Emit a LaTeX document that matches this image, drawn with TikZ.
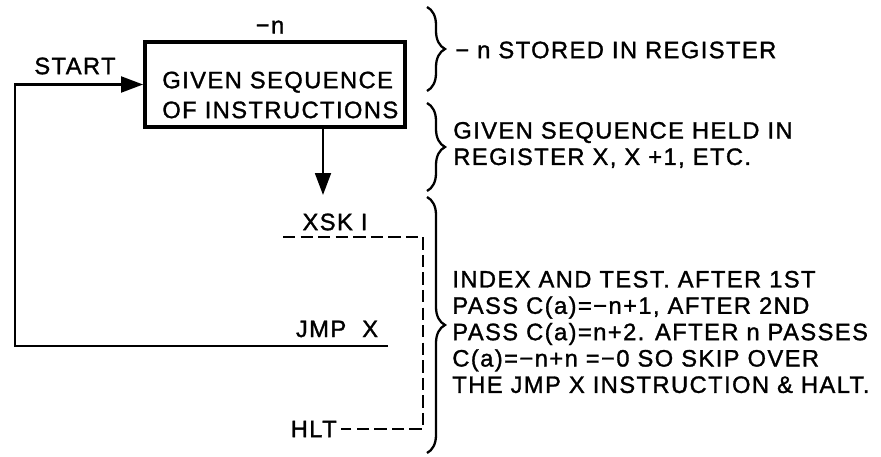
\documentclass[tikz,border=0pt]{standalone}
\usepackage{fontspec}
\setmainfont{Liberation Sans}[LetterSpace=6,FakeBold=1.3]
\usetikzlibrary{arrows.meta,positioning,decorations.pathreplacing}

\begin{document}
\begin{tikzpicture}[x=0.02cm,y=-0.02cm,
    txt/.style={font=\fontsize{13.5}{15}\selectfont,inner sep=0pt,align=left},
    seqbox/.style={draw,line width=2.2pt,minimum width=5.2cm,minimum height=1.7cm,inner sep=0pt},
    flow/.style={line width=1.4pt,-{Triangle[length=12.5pt,width=9pt]}},
    skip/.style={line width=1.3pt,dash pattern=on 7pt off 3pt},
    curly/.style={decorate,decoration={brace,amplitude=0.36cm},line width=1.3pt}
]
    \useasboundingbox (0,0) rectangle (881,456);
    % left half: the program
    \node[seqbox] (seq) at (275,84.5) {};
    \node[txt,anchor=west,font=\fontsize{13.5}{17}\selectfont] (seqtxt) at (162,95)
        {GIVEN SEQUENCE\\OF INSTRUCTIONS};
    \node[txt] (minusn) at (270,27) {−n};
    \node[txt] (start) at (75,66) {START};
    \node[txt] (xsk) at (335,222) {XSK I};
    \node[txt] (jmp) at (337,329) {JMP\ \ X};
    \node[txt,anchor=east] (hlt) at (337,429) {HLT};
    \coordinate (xsktip) at (323,195);
    \coordinate (jmpend) at (388,346);
    \coordinate (loopcorner) at (15,346);
    \coordinate (skipstart) at (283,237);
    \coordinate (skipright) at (418,237);
    \draw[flow] (jmpend) -- (loopcorner) |- (seq.west);
    \draw[flow] (seq.south -| xsktip) -- (xsktip);
    \draw[skip] (skipstart) -| ([xshift=3pt]skipright |- hlt.east) -- ([xshift=2pt]hlt.east);
    % right half: the notes
    \coordinate (b1top) at (427,7);
    \coordinate (b1bot) at (427,91);
    \coordinate (b2top) at (427,103);
    \coordinate (b2bot) at (427,191);
    \coordinate (b3top) at (427,197);
    \coordinate (b3bot) at (427,453);
    \draw[curly] (b1top) -- (b1bot);
    \draw[curly] (b2top) -- (b2bot);
    \draw[curly] (b3top) -- (b3bot);
    \node[txt,anchor=west] (stored) at (455,50) {− n STORED IN REGISTER};
    \node[txt,anchor=west] (held) at (453,145) {GIVEN SEQUENCE HELD IN\\REGISTER X, X +1, ETC.};
    \node[txt,anchor=west] (index) at (452,332) {INDEX AND TEST. AFTER 1ST\\
        PASS C(a)=−n+1, AFTER 2ND\\
        PASS C(a)=n+2. AFTER n PASSES\\
        C(a)=−n+n =−0 SO SKIP OVER\\
        THE JMP X INSTRUCTION \& HALT.};
\end{tikzpicture}
\end{document}
